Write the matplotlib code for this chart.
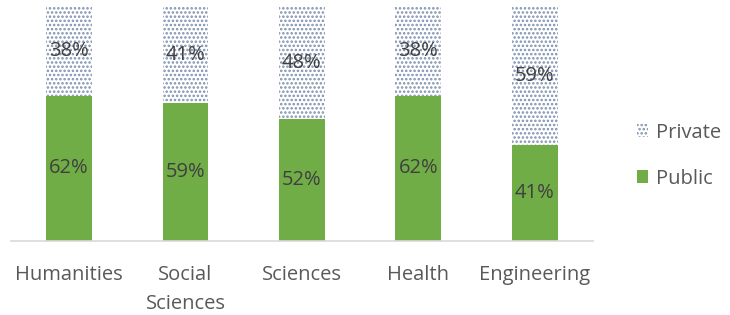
import matplotlib.pyplot as plt
import matplotlib as mpl

categories = ["Humanities", "Social\nSciences", "Sciences", "Health", "Engineering"]
public = [62, 59, 52, 62, 41]
private = [38, 41, 48, 38, 59]

mpl.rcParams["font.family"] = ["Open Sans", "DejaVu Sans"]
mpl.rcParams["hatch.color"] = "#7d90ae"
mpl.rcParams["hatch.linewidth"] = 1.2

fig = plt.figure(figsize=(7.3, 3.15), dpi=100)
ax = fig.add_axes([0.015, 0.235, 0.797, 0.743])

x = range(len(categories))
ax.bar(x, public, width=0.395, color="#70ad47", label="Public")
ax.bar(x, private, width=0.395, bottom=public, color="white",
       hatch="....", edgecolor="#7d90ae", linewidth=0, label="Private")

for i in x:
    ax.text(i, public[i] / 2, f"{public[i]}%", ha="center", va="center",
            fontsize=14.5, color="#404040")
    ax.text(i, public[i] + private[i] / 2, f"{private[i]}%", ha="center",
            va="center", fontsize=14.5, color="#404040")

ax.set_xlim(-0.5, 4.5)
ax.set_ylim(0, 100)
ax.set_xticks(list(x))
ax.set_xticklabels(categories, fontsize=14.5, color="#595959", linespacing=1.6)
ax.tick_params(axis="x", length=0, pad=17)
ax.set_yticks([])
for s in ["top", "left", "right"]:
    ax.spines[s].set_visible(False)
ax.spines["bottom"].set_color("#d9d9d9")
ax.spines["bottom"].set_linewidth(1.2)

h, l = ax.get_legend_handles_labels()
fig.legend(h[::-1], l[::-1], loc="center left", bbox_to_anchor=(0.848, 0.506),
           frameon=False, fontsize=14.5, labelcolor="#595959",
           handlelength=0.55, handleheight=0.6, handletextpad=0.4,
           labelspacing=1.3)

fig.savefig("out.png", dpi=100)
